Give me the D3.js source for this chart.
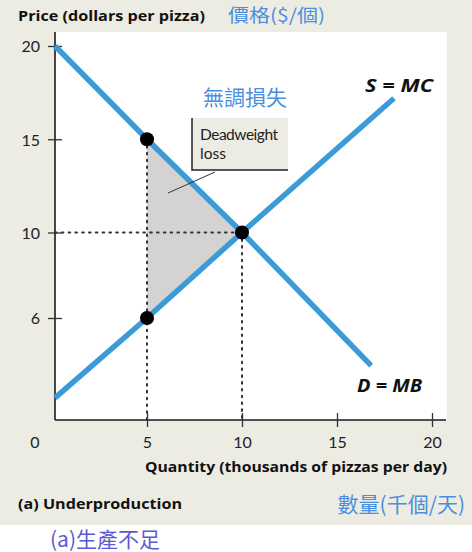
<!DOCTYPE html>
<html><head><meta charset="utf-8">
<script src="https://cdn.jsdelivr.net/npm/d3@7"></script>
<style>
html,body{margin:0;padding:0;background:#fff;}
svg{display:block;}
</style></head>
<body>
<svg id="c" width="472" height="552"></svg>
<script>
// ---- data ----
const demandQ = [0, 5, 10, 16.8];
const demandP = [20, 15, 10, 3.2];
const supplyQ = [0, 5, 10, 18];
const supplyP = [1.3, 6, 10, 17.2];
const dotQ = [5, 10, 5];
const dotP = [15, 10, 6];
const xTickValues = [5, 10, 15, 20];
const yTickValues = [6, 10, 15, 20];
const deadweightQ = [5, 10, 5];
const deadweightP = [15, 10, 6];

const svg = d3.select("#c");
const LAT = "Lato, 'Open Sans', sans-serif";
const OPS = "'Open Sans', Lato, sans-serif";
const CJK = "'Noto Sans CJK TC', 'Noto Sans CJK SC', sans-serif";

// scales (the original figure is drawn slightly non-proportionally)
const x = d3.scaleLinear().domain([0, 5, 20]).range([55, 147, 432]);
const y = d3.scaleLinear().domain([0, 6, 10, 20]).range([420, 318, 232.5, 46]);

// backgrounds
svg.append("rect").attr("x",0).attr("y",0).attr("width",472).attr("height",525).attr("fill","#edece2");
svg.append("rect").attr("x",x(0)).attr("y",32).attr("width",447-x(0)).attr("height",y(0)-32).attr("fill","#ffffff");

// deadweight triangle
svg.append("path")
  .attr("d", d3.line()(deadweightQ.map((q,i)=>[x(q), y(deadweightP[i])])) + "Z")
  .attr("fill","#d5d2d2");

// dotted guide lines
const dotted = (x1,y1,x2,y2)=>svg.append("line").attr("x1",x1).attr("y1",y1).attr("x2",x2).attr("y2",y2)
  .attr("stroke","#333").attr("stroke-width",2).attr("stroke-dasharray","1.6,5.2").attr("stroke-linecap","round");
dotted(x(5), y(15), x(5), y(0));
dotted(x(0), y(10), x(10), y(10));
dotted(x(10), y(10), x(10), y(0));

// axes
const xAxis = svg.append("g").attr("transform",`translate(0,${y(0)})`)
  .call(d3.axisBottom(x).tickValues(xTickValues).tickSize(7).tickSizeOuter(0));
xAxis.select(".domain").attr("d",`M${x(0)},0H446`).attr("stroke","#1a1a1a").attr("stroke-width",1.6);
xAxis.selectAll(".tick line").attr("y1",-7).attr("y2",7).attr("stroke","#333").attr("stroke-width",1.3);
xAxis.selectAll(".tick text").attr("y",28).attr("dy",null).attr("font-family",LAT).attr("font-size",16).attr("fill","#222");

const yAxis = svg.append("g").attr("transform",`translate(${x(0)},0)`)
  .call(d3.axisLeft(y).tickValues(yTickValues).tickSize(7).tickSizeOuter(0));
yAxis.select(".domain").attr("d",`M0,32V${y(0)}`).attr("stroke","#1a1a1a").attr("stroke-width",1.6);
yAxis.selectAll(".tick line").attr("x1",-7).attr("x2",7).attr("stroke","#333").attr("stroke-width",1.3);
yAxis.selectAll(".tick text").attr("x",-15).attr("dy","0.36em").attr("font-family",LAT).attr("font-size",16).attr("fill","#222");
svg.selectAll(".domain, .tick line").attr("fill","none");

svg.append("text").attr("x",x(0)-20).attr("y",y(0)+28).attr("text-anchor","middle")
  .attr("font-family",LAT).attr("font-size",16).attr("fill","#222").text("0");

// curves
const line = d3.line();
svg.append("path").attr("d", line(supplyQ.map((q,i)=>[x(q), y(supplyP[i])])))
  .attr("fill","none").attr("stroke","#3b9bd9").attr("stroke-width",5.5);
svg.append("path").attr("d", line(demandQ.map((q,i)=>[x(q), y(demandP[i])])))
  .attr("fill","none").attr("stroke","#3b9bd9").attr("stroke-width",5.5);

// points
svg.selectAll("circle.pt").data(dotQ).enter().append("circle")
  .attr("cx",(d)=>x(d)).attr("cy",(d,i)=>y(dotP[i])).attr("r",7).attr("fill","#000");

// deadweight label box
svg.append("rect").attr("x",192).attr("y",118).attr("width",96).attr("height",52).attr("fill","#edece2");
svg.append("path").attr("d","M192,118V170H288").attr("fill","none").attr("stroke","#222").attr("stroke-width",1.5);
svg.append("text").attr("x",200).attr("y",140).attr("font-family",LAT).attr("font-size",15.5).attr("fill","#222").attr("textLength",78).text("Deadweight");
svg.append("text").attr("x",200).attr("y",159).attr("font-family",LAT).attr("font-size",15.5).attr("fill","#222").text("loss");
svg.append("line").attr("x1",215).attr("y1",172).attr("x2",168).attr("y2",193).attr("stroke","#333").attr("stroke-width",1);

// curve labels
const boldText = (tx, ty, size, len, str, italic) => svg.append("text").attr("x",tx).attr("y",ty)
  .attr("font-family",OPS).attr("font-size",size).attr("font-weight","bold")
  .attr("font-style", italic ? "italic" : "normal").attr("fill","#111")
  .attr("textLength",len).attr("lengthAdjust","spacingAndGlyphs").text(str);
boldText(365, 92, 17, 68, "S = MC", true);
boldText(357, 392, 17, 65, "D = MB", true);

// axis titles
boldText(18, 21, 15, 187, "Price (dollars per pizza)", false);
boldText(145, 472, 15, 302, "Quantity (thousands of pizzas per day)", false);
boldText(18, 509, 15, 164, "(a) Underproduction", false);

// Chinese annotations
svg.append("text").attr("x",228).attr("y",22).attr("font-family",CJK).attr("font-size",18)
  .attr("textLength",97).attr("lengthAdjust","spacingAndGlyphs").attr("fill","#4a8fe0").text("價格($/個)");
svg.append("text").attr("x",203).attr("y",105).attr("font-family",CJK).attr("font-size",21).attr("fill","#4a8fe0").text("無調損失");
svg.append("text").attr("x",465).attr("y",512).attr("text-anchor","end").attr("font-family",CJK).attr("font-size",21).attr("fill","#4a8fe0").text("數量(千個/天)");
svg.append("text").attr("x",50).attr("y",547).attr("font-family",CJK).attr("font-size",21).attr("fill","#5a5ad6").text("(a)生產不足");
</script>
</body></html>
